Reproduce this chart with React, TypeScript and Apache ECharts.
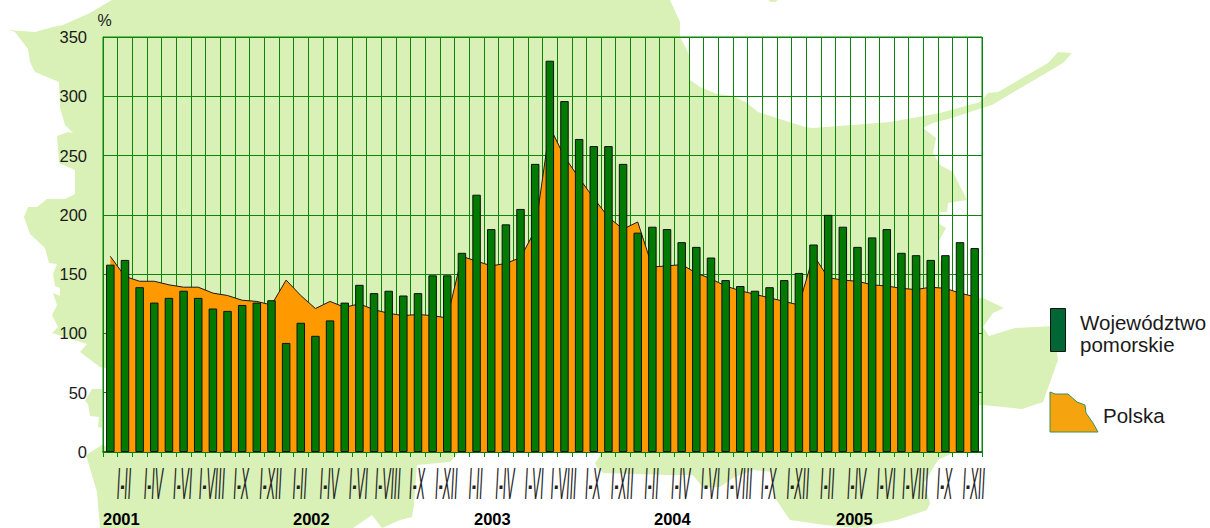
import React, { useEffect, useRef } from "react";
import * as echarts from "echarts";

const months = ["I", "I-II", "I-III", "I-IV", "I-V", "I-VI", "I-VII", "I-VIII", "I-IX", "I-X", "I-XI", "I-XII"];
const years = ["2001", "2002", "2003", "2004", "2005"];
const categories = years.flatMap((y) => months.map((m) => `${y} ${m}`));

const tickLabels = years.flatMap(() => ["I-II", "I-IV", "I-VI", "I-VIII", "I-X", "I-XII"]);

const pomorskie = [
  158, 162, 139, 126, 130, 136, 130, 121, 119, 124, 126, 128,
  92, 109, 98, 111, 126, 141, 134, 136, 132, 134, 149, 149,
  168, 217, 188, 192, 205, 243, 330, 296, 264, 258, 258, 243,
  185, 190, 188, 177, 173, 164, 145, 140, 136, 139, 145, 151,
  175, 200, 190, 173, 181, 188, 168, 166, 162, 166, 177, 172,
];
const polska = [
  165, 148, 144, 144, 141, 139, 139, 134, 132, 128, 127, 124,
  145, 132, 121, 127, 122, 125, 120, 117, 115, 116, 115, 113,
  165, 161, 157, 159, 164, 187, 274, 249, 231, 214, 198, 188,
  194, 156, 157, 158, 151, 146, 140, 136, 133, 130, 127, 124,
  166, 147, 145, 144, 141, 140, 138, 137, 139, 138, 134, 131,
];

const yearLabels = [
  { text: "2001", x: 103 },
  { text: "2002", x: 293 },
  { text: "2003", x: 474 },
  { text: "2004", x: 654 },
  { text: "2005", x: 836 },
];

const mapMain: number[][] = [
  [112, 0], [100, 7], [90, 13], [63, 25], [53, 27], [35, 32], [8, 30], [15, 32], [28, 49], [30, 62], [35, 72], [59, 82],
  [60, 108], [65, 125], [73, 133], [68, 132], [57, 136], [59, 163], [75, 170], [75, 194], [65, 199], [47, 199], [37, 207],
  [28, 207], [24, 217], [30, 234], [45, 248], [49, 263], [57, 264], [53, 274], [55, 286], [60, 288], [60, 296], [53, 293],
  [57, 305], [52, 315], [58, 327], [52, 333], [87, 344], [80, 352], [100, 367], [112, 369], [112, 448], [102, 445], [86, 455],
  [97, 492], [100, 528], [353, 528], [372, 515], [382, 528], [400, 520], [412, 517], [414, 505], [417, 465], [450, 462], [458, 453],
  [500, 400], [560, 400], [602, 453], [595, 463], [597, 467], [603, 473], [667, 475], [693, 475], [703, 488], [720, 487],
  [733, 478], [753, 470], [772, 472], [775, 498], [790, 520], [825, 525], [857, 528], [897, 520], [927, 510], [930, 503],
  [924, 483], [938, 460], [953, 453], [972, 452], [972, 405], [983, 405], [1022, 409], [1043, 402], [1058, 360], [1053, 326],
  [1015, 328], [989, 336], [983, 327], [993, 313], [1004, 308], [983, 298], [950, 300], [948, 277], [940, 260], [938, 243],
  [946, 228], [938, 223], [938, 212], [947, 212], [948, 203], [967, 200], [953, 172], [940, 165], [933, 153], [936, 138],
  [923, 128], [933, 123], [955, 117], [982, 108], [992, 105], [1063, 63], [1072, 53], [1058, 52], [1048, 63], [998, 92],
  [988, 93], [980, 102], [940, 113], [890, 122], [813, 128], [805, 127], [758, 112], [747, 103], [733, 96], [717, 94],
  [700, 87], [690, 80], [690, 58], [687, 50], [680, 37], [680, 22], [670, 0],
];
const mapIsland: number[][] = [[92, 389], [102, 389], [102, 428], [98, 427], [99, 417], [90, 416], [88, 404], [85, 401]];
const mapIslet: number[][] = [[768, 0], [778, 0], [775, 2], [771, 2]];
const legendShape: number[][] = [[1050, 392], [1055, 394], [1068, 394], [1077, 402], [1085, 405], [1086, 413], [1093, 423], [1098, 432], [1050, 432]];

const FONT = '"Liberation Sans", Arial, sans-serif';
const GREEN = "#0a850a";
const LAND = "#d9f1b7";
const TEXT = "#1a1a1a";

export default function App() {
  const ref = useRef<HTMLDivElement>(null);
  useEffect(() => {
    const chart = echarts.init(ref.current!, undefined, { renderer: "svg" });
    const land = (pts: number[][]) => ({
      type: "polygon",
      z: -10,
      silent: true,
      shape: { points: pts },
      style: { fill: LAND, stroke: "none" },
    });
    const txt = (text: string, x: number, y: number, size: number, extra: any = {}) => ({
      type: "text",
      x,
      y,
      z: 10,
      silent: true,
      style: { text, fill: extra.fill || TEXT, font: `${extra.weight || "normal"} ${size}px ${FONT}`, textAlign: "left", textVerticalAlign: "middle" },
    });
    chart.setOption({
      animation: false,
      backgroundColor: "#ffffff",
      grid: { left: 103, top: 37, width: 879, height: 415, show: true, borderColor: GREEN, borderWidth: 1, backgroundColor: "transparent" },
      xAxis: {
        type: "category",
        data: categories,
        boundaryGap: true,
        axisLine: { lineStyle: { color: "#066b06", width: 1.5 } },
        axisTick: { show: true, alignWithLabel: false, interval: 0, length: 5, lineStyle: { color: GREEN } },
        axisLabel: { show: false },
        splitLine: { show: true, interval: 0, lineStyle: { color: GREEN, width: 1 } },
      },
      yAxis: {
        type: "value",
        min: 0,
        max: 350,
        interval: 50,
        axisLine: { show: true, lineStyle: { color: GREEN } },
        axisTick: { show: false },
        axisLabel: { color: TEXT, fontFamily: FONT, fontSize: 16.5, margin: 16 },
        splitLine: { show: true, lineStyle: { color: GREEN, width: 1 } },
      },
      series: [
        {
          name: "Polska",
          type: "line",
          data: polska,
          symbol: "none",
          z: 2,
          lineStyle: { color: "#1a1a1a", width: 1 },
          areaStyle: { color: "#ff9900", opacity: 1 },
        },
        {
          name: "Województwo pomorskie",
          type: "bar",
          data: pomorskie,
          barWidth: 8.5,
          z: 3,
          itemStyle: { color: "#007a00", borderColor: "#111111", borderWidth: 1 },
        },
        {
          name: "okresy",
          type: "custom",
          coordinateSystem: "cartesian2d",
          silent: true,
          z: 5,
          clip: false,
          data: tickLabels.map((_, i) => [categories[i * 2 + 1], 0]),
          renderItem: (params: any, api: any) => {
            const p = api.coord([api.value(0), 0]);
            return {
              type: "text",
              x: p[0] - 1,
              y: p[1] + 32,
              scaleX: 0.28,
              style: {
                text: tickLabels[params.dataIndex],
                fill: "#222222",
                font: `italic 44px ${FONT}`,
                textAlign: "center",
                textVerticalAlign: "middle",
              },
            };
          },
        },
      ],
      graphic: {
        elements: [
          land(mapMain),
          land(mapIsland),
          land(mapIslet),
          txt("%", 97.5, 20, 16),
          ...yearLabels.map((y) => txt(y.text, y.x, 519, 16.5, { weight: "bold", fill: "#000000" })),
          {
            type: "rect",
            z: 10,
            silent: true,
            shape: { x: 1050.5, y: 308.5, width: 15, height: 43 },
            style: { fill: "#006633", stroke: "#111111", lineWidth: 1 },
          },
          txt("Województwo", 1080, 322, 20.5),
          txt("pomorskie", 1080, 344, 20.5),
          {
            type: "polygon",
            z: 10,
            silent: true,
            shape: { points: legendShape },
            style: { fill: "#f5a30f", stroke: "#3f8f55", lineWidth: 1 },
          },
          txt("Polska", 1103, 415, 20.5),
        ],
      },
    });
    return () => chart.dispose();
  }, []);
  return <div ref={ref} style={{ position: "fixed", left: 0, top: 0, width: 1210, height: 528 }} />;
}
